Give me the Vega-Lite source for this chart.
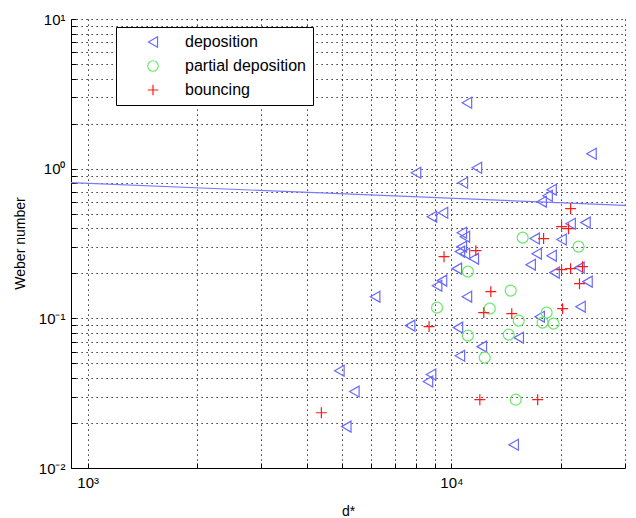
{
  "$schema": "https://vega.github.io/schema/vega-lite/v6.json",
  "width": 554,
  "height": 449,
  "autosize": {"type": "none"},
  "padding": {"left": 71, "top": 19, "right": 11, "bottom": 50},
  "background": "white",
  "config": {
    "view": {"stroke": null},
    "font": "Liberation Sans",
    "axis": {
      "grid": true,
      "gridColor": "#000000",
      "gridDash": [1.2, 3.8],
      "gridWidth": 1,
      "gridOpacity": 1,
      "domainColor": "#000000",
      "domainWidth": 1,
      "tickColor": "#000000",
      "tickSize": -5,
      "labelFont": "Liberation Sans",
      "labelFontSize": 15,
      "labelColor": "#000000",
      "titleFont": "Liberation Sans",
      "titleFontSize": 14,
      "titleFontWeight": "normal",
      "titleColor": "#000000",
      "labelFlush": false,
      "labelOverlap": false
    }
  },
  "datasets": {
    "points": [
      {"d": 11030, "we": 2.76, "type": "deposition"},
      {"d": 24270, "we": 1.259, "type": "deposition"},
      {"d": 7990, "we": 0.94, "type": "deposition"},
      {"d": 11750, "we": 1.015, "type": "deposition"},
      {"d": 10750, "we": 0.806, "type": "deposition"},
      {"d": 18850, "we": 0.724, "type": "deposition"},
      {"d": 18380, "we": 0.66, "type": "deposition"},
      {"d": 17700, "we": 0.602, "type": "deposition"},
      {"d": 8840, "we": 0.478, "type": "deposition"},
      {"d": 9480, "we": 0.508, "type": "deposition"},
      {"d": 21260, "we": 0.429, "type": "deposition"},
      {"d": 23360, "we": 0.436, "type": "deposition"},
      {"d": 16930, "we": 0.341, "type": "deposition"},
      {"d": 20080, "we": 0.336, "type": "deposition"},
      {"d": 17150, "we": 0.2705, "type": "deposition"},
      {"d": 18850, "we": 0.2623, "type": "deposition"},
      {"d": 10680, "we": 0.3737, "type": "deposition"},
      {"d": 10890, "we": 0.3513, "type": "deposition"},
      {"d": 10680, "we": 0.3013, "type": "deposition"},
      {"d": 10550, "we": 0.2791, "type": "deposition"},
      {"d": 10890, "we": 0.2705, "type": "deposition"},
      {"d": 11520, "we": 0.2505, "type": "deposition"},
      {"d": 10350, "we": 0.2148, "type": "deposition"},
      {"d": 16510, "we": 0.2284, "type": "deposition"},
      {"d": 19210, "we": 0.202, "type": "deposition"},
      {"d": 22490, "we": 0.2182, "type": "deposition"},
      {"d": 23660, "we": 0.1759, "type": "deposition"},
      {"d": 9420, "we": 0.1786, "type": "deposition"},
      {"d": 9130, "we": 0.1653, "type": "deposition"},
      {"d": 6170, "we": 0.1396, "type": "deposition"},
      {"d": 11030, "we": 0.1396, "type": "deposition"},
      {"d": 22640, "we": 0.1197, "type": "deposition"},
      {"d": 7700, "we": 0.0894, "type": "deposition"},
      {"d": 10420, "we": 0.0867, "type": "deposition"},
      {"d": 17480, "we": 0.1026, "type": "deposition"},
      {"d": 15310, "we": 0.0743, "type": "deposition"},
      {"d": 12120, "we": 0.0647, "type": "deposition"},
      {"d": 10550, "we": 0.0563, "type": "deposition"},
      {"d": 4920, "we": 0.0447, "type": "deposition"},
      {"d": 8790, "we": 0.0421, "type": "deposition"},
      {"d": 8620, "we": 0.0378, "type": "deposition"},
      {"d": 5410, "we": 0.0324, "type": "deposition"},
      {"d": 5140, "we": 0.0189, "type": "deposition"},
      {"d": 14830, "we": 0.0143, "type": "deposition"},
      {"d": 15700, "we": 0.346, "type": "partial deposition"},
      {"d": 22360, "we": 0.3013, "type": "partial deposition"},
      {"d": 11100, "we": 0.2051, "type": "partial deposition"},
      {"d": 14550, "we": 0.1531, "type": "partial deposition"},
      {"d": 9130, "we": 0.1179, "type": "partial deposition"},
      {"d": 12750, "we": 0.1161, "type": "partial deposition"},
      {"d": 15310, "we": 0.0965, "type": "partial deposition"},
      {"d": 18270, "we": 0.1092, "type": "partial deposition"},
      {"d": 17810, "we": 0.0936, "type": "partial deposition"},
      {"d": 19090, "we": 0.0922, "type": "partial deposition"},
      {"d": 11100, "we": 0.0766, "type": "partial deposition"},
      {"d": 14370, "we": 0.0778, "type": "partial deposition"},
      {"d": 12350, "we": 0.0546, "type": "partial deposition"},
      {"d": 15020, "we": 0.0286, "type": "partial deposition"},
      {"d": 21260, "we": 0.54, "type": "bouncing"},
      {"d": 20080, "we": 0.41, "type": "bouncing"},
      {"d": 20980, "we": 0.397, "type": "bouncing"},
      {"d": 17920, "we": 0.341, "type": "bouncing"},
      {"d": 11670, "we": 0.2833, "type": "bouncing"},
      {"d": 9540, "we": 0.2583, "type": "bouncing"},
      {"d": 20080, "we": 0.2115, "type": "bouncing"},
      {"d": 21260, "we": 0.2148, "type": "bouncing"},
      {"d": 22930, "we": 0.2215, "type": "bouncing"},
      {"d": 22490, "we": 0.1705, "type": "bouncing"},
      {"d": 12830, "we": 0.1508, "type": "bouncing"},
      {"d": 12270, "we": 0.1092, "type": "bouncing"},
      {"d": 14650, "we": 0.1075, "type": "bouncing"},
      {"d": 20210, "we": 0.1161, "type": "bouncing"},
      {"d": 8680, "we": 0.088, "type": "bouncing"},
      {"d": 11970, "we": 0.0286, "type": "bouncing"},
      {"d": 17260, "we": 0.0286, "type": "bouncing"},
      {"d": 4390, "we": 0.0234, "type": "bouncing"}
    ],
    "fit": [
      {"d": 900, "we": 0.807},
      {"d": 30000, "we": 0.568}
    ]
  },
  "layer": [
    {
      "data": {"name": "fit"},
      "mark": {"type": "line", "color": "#7b7bff", "strokeWidth": 1.2, "clip": true},
      "encoding": {
        "x": {
          "field": "d", "type": "quantitative",
          "scale": {"type": "log", "domain": [900, 30000], "nice": false},
          "axis": {
            "title": "d*",
            "titleX": 277,
            "titleY": 47,
            "titleBaseline": "alphabetic",
            "values": [1000, 2000, 3000, 4000, 5000, 6000, 7000, 8000, 9000, 10000, 20000, 30000],
            "labelExpr": "datum.value == 1000 ? '10³' : (datum.value == 10000 ? '10⁴' : '')",
            "labelPadding": 12
          }
        },
        "y": {
          "field": "we", "type": "quantitative",
          "scale": {"type": "log", "domain": [0.01, 10], "nice": false},
          "axis": {
            "title": "Weber number",
            "titleX": -51,
            "titleY": 224,
            "titleBaseline": "middle",
            "titleAngle": -90,
            "values": [0.01, 0.02, 0.03, 0.04, 0.05, 0.06, 0.07, 0.08, 0.09, 0.1, 0.2, 0.3, 0.4, 0.5, 0.6, 0.7, 0.8, 0.9, 1, 2, 3, 4, 5, 6, 7, 8, 9, 10],
            "labelExpr": "datum.value == 0.01 ? '10⁻²' : (datum.value == 0.1 ? '10⁻¹' : (datum.value == 1 ? '10⁰' : (datum.value == 10 ? '10¹' : '')))",
            "labelPadding": 11
          }
        }
      }
    },
    {
      "data": {"name": "points"},
      "mark": {"type": "point", "filled": false, "strokeWidth": 1.2, "opacity": 1},
      "encoding": {
        "x": {"field": "d", "type": "quantitative"},
        "y": {"field": "we", "type": "quantitative"},
        "color": {
          "field": "type", "type": "nominal",
          "scale": {"domain": ["deposition", "partial deposition", "bouncing"], "range": ["#6a6aff", "#6ee86e", "#ff1a1a"]},
          "legend": {
            "title": null,
            "orient": "none",
            "legendX": 45,
            "legendY": 8,
            "padding": 7,
            "strokeColor": "#000000",
            "fillColor": "#ffffff",
            "cornerRadius": 0,
            "symbolOffset": 22,
            "labelOffset": 24,
            "rowPadding": 8,
            "labelFont": "Liberation Sans",
            "labelFontSize": 16,
            "labelColor": "#000000",
            "symbolStrokeWidth": 1.2,
            "symbolSize": 110,
            "symbolFillColor": "transparent"
          }
        },
        "shape": {
          "field": "type", "type": "nominal",
          "scale": {"domain": ["deposition", "partial deposition", "bouncing"], "range": ["triangle-left", "circle", "M-1,0L1,0M0,-1L0,1"]}
        },
        "size": {"value": 120}
      }
    }
  ]
}
